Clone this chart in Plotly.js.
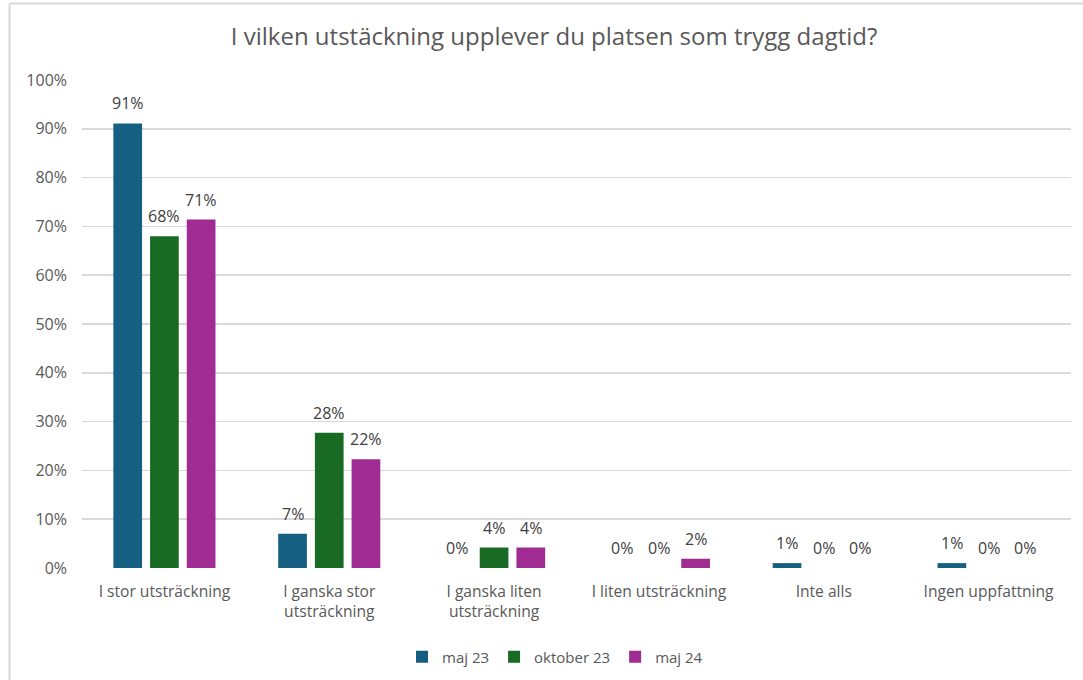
<!DOCTYPE html>
<html>
<head>
<meta charset="utf-8">
<script src="https://cdn.plot.ly/plotly-3.0.1.min.js"></script>
<style>
  html, body { margin: 0; padding: 0; background: #ffffff; }
  #chart { width: 1083px; height: 680px; }
</style>
</head>
<body>
<div id="chart"></div>
<script>
// ---- data ----
const categories = [
  "I stor utsträckning",
  "I ganska stor<br>utsträckning",
  "I ganska liten<br>utsträckning",
  "I liten utsträckning",
  "Inte alls",
  "Ingen uppfattning"
];
const seriesNames = ["maj 23", "oktober 23", "maj 24"];
const maj23 = [0.911, 0.070, 0.000, 0.000, 0.010, 0.010];
const okt23 = [0.680, 0.277, 0.042, 0.000, 0.000, 0.000];
const maj24 = [0.714, 0.223, 0.042, 0.019, 0.000, 0.000];
const yTicks = [0, 0.1, 0.2, 0.3, 0.4, 0.5, 0.6, 0.7, 0.8, 0.9, 1.0];
const colors = ["#156082", "#196B24", "#A02B93"];

const FONT = "Open Sans, Lato, Roboto, sans-serif";
const allSeries = [maj23, okt23, maj24];

const traces = allSeries.map((vals, i) => ({
  type: "bar",
  name: seriesNames[i],
  x: categories,
  y: vals,
  marker: { color: colors[i] },
  hoverinfo: "skip"
}));

// data labels above bars
const pitch = 36.7;
const annotations = [];
allSeries.forEach((vals, i) => {
  vals.forEach((v, j) => {
    annotations.push({
      x: categories[j], y: v, xref: "x", yref: "y",
      text: Math.round(v * 100) + "%",
      showarrow: false,
      xshift: (i - 1) * pitch,
      yshift: 7,
      yanchor: "bottom",
      xanchor: "center",
      font: { family: FONT, size: 16, color: "#404040" }
    });
  });
});

const layout = {
  width: 1083,
  height: 680,
  paper_bgcolor: "#ffffff",
  plot_bgcolor: "#ffffff",
  margin: { l: 82, r: 12, t: 80, b: 112, autoexpand: false },
  barmode: "group",
  bargap: 0.332,
  bargroupgap: 0.218,
  title: {
    text: "I vilken utstäckning upplever du platsen som trygg dagtid?",
    font: { family: FONT, size: 24, color: "#595959" },
    x: 0.5116, xanchor: "center", xref: "container",
    y: 1 - 37 / 680, yanchor: "middle", yref: "container"
  },
  xaxis: {
    type: "category",
    automargin: false,
    showgrid: false,
    showline: false,
    zeroline: false,
    ticks: "",
    tickfont: { family: FONT, size: 15.6, color: "#595959" },
    ticklabelstandoff: 12
  },
  yaxis: {
    range: [0, 1],
    automargin: false,
    tickvals: yTicks,
    tickformat: ".0%",
    showgrid: true,
    gridcolor: "#d9d9d9",
    gridwidth: 1.5,
    zeroline: false,
    showline: false,
    ticks: "",
    tickfont: { family: FONT, size: 16, color: "#595959" },
    ticklabelstandoff: 14
  },
  showlegend: true,
  legend: {
    orientation: "h",
    xref: "container", yref: "container",
    x: 555 / 1083, xanchor: "center",
    y: 1 - 657 / 680, yanchor: "middle",
    font: { family: FONT, size: 15, color: "#595959" },
    itemwidth: 30,
    traceorder: "normal"
  },
  annotations: annotations,
  shapes: [
    { type: "line", xref: "paper", yref: "paper",
      x0: (9.5 - 82) / 989, x1: (9.5 - 82) / 989, y0: (568 - 700) / 488, y1: (568 - 3.5) / 488,
      line: { color: "#d9d9d9", width: 2 } },
    { type: "line", xref: "paper", yref: "paper",
      x0: (9.5 - 82) / 989, x1: (1090 - 82) / 989, y0: (568 - 3.5) / 488, y1: (568 - 3.5) / 488,
      line: { color: "#d9d9d9", width: 2 } }
  ]
};

Plotly.newPlot("chart", traces, layout, { displayModeBar: false, staticPlot: true });
</script>
</body>
</html>
